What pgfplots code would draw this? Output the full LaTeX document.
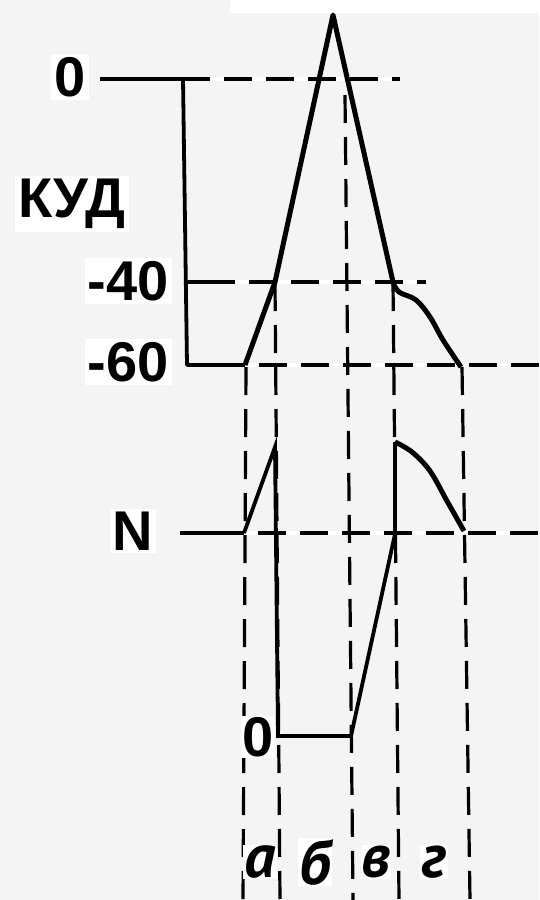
\documentclass[border=0pt]{standalone}
\usepackage{pgfplots}
\pgfplotsset{compat=1.18}
\usepackage{fontspec}
\setmainfont{Liberation Sans}
\newfontfamily\curs{PT Sans}
\definecolor{paper}{HTML}{F4F4F4}
\tikzset{
  lbl/.style={font=\fontsize{56bp}{60bp}\selectfont\bfseries, fill=white, inner sep=3bp},
  abc/.style={font=\fontsize{62bp}{66bp}\selectfont\curs\bfseries\itshape, fill=white, inner sep=1bp},
  dsh/.style={line width=3.2bp, dash pattern=on 28bp off 14bp},
  hdsh/.style={line width=3.4bp, dash pattern=on 28bp off 14bp, dash phase=28bp},
}

\begin{document}
\begin{tikzpicture}
\begin{axis}[
  width=539bp, height=900bp, scale only axis,
  xmin=0, xmax=539, ymin=0, ymax=900, y dir=reverse,
  hide axis, clip=false,
]
% paper
\fill[paper] (axis cs:0,0) rectangle (axis cs:539,900);
\fill[white] (axis cs:230,0) rectangle (axis cs:539,13);
\coordinate (ll) at (axis cs:0,900);
\coordinate (ur) at (axis cs:539,0);

% white underlay of the horizontal guide lines
\addplot[white, line width=3.4bp] coordinates {(183,79) (400,79)};
\addplot[white, line width=3.4bp] coordinates {(187,282) (426,282)};
\addplot[white, line width=3.4bp] coordinates {(245,365) (539,365)};
\addplot[white, line width=3.4bp] coordinates {(244,533) (539,533)};

% horizontal guide lines: 0, -40, -60, N
\addplot[black, line width=3.8bp] coordinates {(100,79) (210,79)};
\addplot[black, hdsh] coordinates {(210,79) (400,79)};
\addplot[black, line width=3.4bp] coordinates {(187,282) (235,282)};
\addplot[black, hdsh] coordinates {(235,282) (426,282)};
\addplot[black, hdsh] coordinates {(245,365) (539,365)};
\addplot[black, hdsh] coordinates {(244,533) (539,533)};

% vertical guide lines down to the phase labels
\addplot[black, dsh] coordinates {(246,367) (243,900)};
\addplot[black, dsh] coordinates {(275,283) (280,900)};
\addplot[black, dsh] coordinates {(345,95) (353,900)};
\addplot[black, dsh] coordinates {(393,283) (399,900)};
\addplot[black, dsh] coordinates {(462,367) (470,900)};

% membrane potential scale and resting level
\addplot[black, line width=3.8bp, line join=round] coordinates {
  (100,79) (183,79) (187,365) (245,365)};

% action potential
\addplot[black, line width=5bp, line join=round] coordinates {
  (245,365) (275,282) (333,15) (393,282)};
\addplot[black, line width=5bp, smooth, tension=0.6] coordinates {
  (393,282) (399,292) (416,300) (430,317) (443,340) (461,367)};

% excitability
\addplot[black, line width=3.8bp] coordinates {(180,533) (244,533)};
\addplot[black, line width=3.8bp, line join=miter] coordinates {
  (244,533) (275,447) (278,736) (351,736) (395,534) (395,442)};
\addplot[black, line width=5bp, smooth, tension=0.6] coordinates {
  (395,442) (412,452) (430,471) (447,501) (464,531)};

% labels
\node[lbl] at (axis cs:70,77) {0};
\node[lbl] at (axis cs:72,204) {КУД};
\node[lbl, anchor=east] at (axis cs:172,281) {-40};
\node[lbl, anchor=east] at (axis cs:172,362) {-60};
\node[lbl] at (axis cs:133,531) {N};
\node[lbl, inner sep=1bp] at (axis cs:258,737) {0};
\node[abc] at (axis cs:260,862) {а};
\node[abc] at (axis cs:315,862) {б};
\node[abc] at (axis cs:376,862) {в};
\node[abc] at (axis cs:434,862) {г};
\end{axis}
\pgfresetboundingbox
\path[use as bounding box] (ll) rectangle (ur);
\end{tikzpicture}
\end{document}
